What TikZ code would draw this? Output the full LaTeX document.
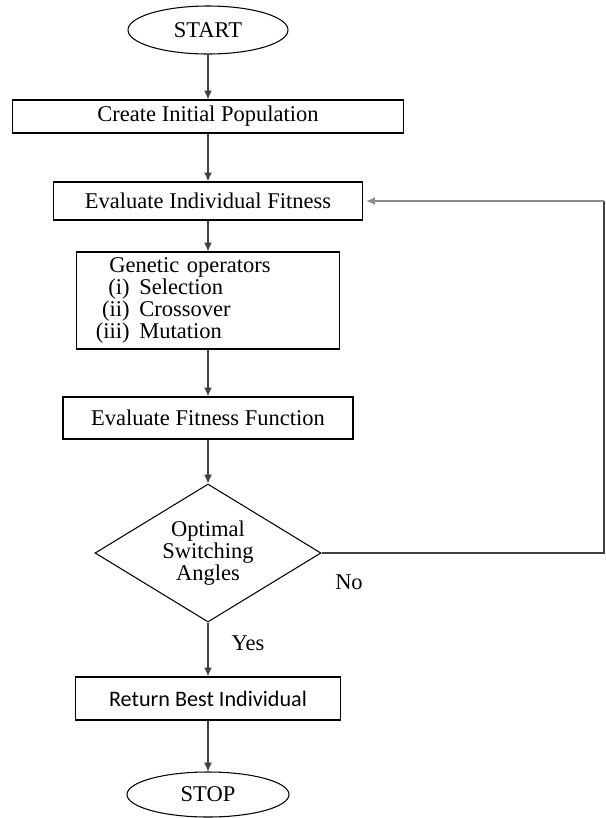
\documentclass[tikz,border=0pt]{standalone}
\usepackage{fontspec}
\setmainfont{Liberation Serif}
\newfontfamily\carlito{Carlito}
\usetikzlibrary{shapes.geometric, arrows.meta}

\begin{document}
\begin{tikzpicture}[
        stepbox/.style={rectangle, draw, line width=0.8pt, inner sep=0pt, align=center},
        terminal/.style={ellipse, draw, line width=0.6pt, inner sep=0pt},
        decision/.style={diamond, draw, line width=0.6pt, inner sep=0pt, aspect=1.64, align=center, font={\fontsize{12.8}{12.5}\selectfont}},
        line/.style={line width=0.7pt, draw=black!75},
        arrow/.style={->, line width=0.7pt, draw=black!75, >={Latex[length=5pt,width=4.5pt]}},
        font={\fontsize{12.8}{13}\selectfont}
    ]
        \useasboundingbox (0,0) rectangle (12.12,-16.36);

        % Flow stages
        \node[terminal, minimum width=3.2cm, minimum height=0.96cm] (start) at (4.16,-0.60) {START};
        \node[stepbox, minimum width=7.82cm, minimum height=0.66cm] (create) at (4.16,-2.33) {Create Initial Population};
        \node[stepbox, minimum width=6.18cm, minimum height=0.76cm] (evalind) at (4.16,-4.02) {Evaluate Individual Fitness};
        \node[stepbox, minimum width=5.26cm, minimum height=1.94cm, text width=4.5cm, align=left, font={\fontsize{12.8}{11.6}\selectfont}] (genetic) at (4.16,-6.01)
            {\hspace*{0.28cm}Genetic operators\\
             \makebox[0.68cm][r]{(i)}\hspace{0.2cm}Selection\\
             \makebox[0.68cm][r]{(ii)}\hspace{0.2cm}Crossover\\
             \makebox[0.68cm][r]{(iii)}\hspace{0.2cm}Mutation};
        \node[stepbox, minimum width=5.8cm, minimum height=0.84cm] (evalff) at (4.16,-8.36) {Evaluate Fitness Function};
        \node[decision, minimum width=4.52cm, minimum height=2.76cm] (decide) at (4.16,-11.06) {Optimal\\Switching\\Angles};
        \node[stepbox, minimum width=5.3cm, minimum height=0.86cm, font={\carlito\fontsize{12.6}{14}\selectfont}] (best) at (4.16,-13.97) {Return Best Individual};
        \node[terminal, minimum width=3.24cm, minimum height=0.9cm] (stop) at (4.16,-15.89) {STOP};

        % Connect stages
        \draw[arrow] (start) -- (create);
        \draw[arrow] (create) -- (evalind);
        \draw[arrow] (evalind) -- (genetic);
        \draw[arrow] (genetic) -- (evalff);
        \draw[arrow] (evalff) -- (decide);
        \draw[arrow] (decide) -- (best);
        \draw[arrow] (best) -- (stop);

        % Loop back when not optimal
        \coordinate (loop) at (12.08,-4.02);
        \draw[line] (decide.east) -| (loop);
        \draw[arrow, draw=black!45, shorten >=0.06cm] (loop) -- (evalind.east);

        % Branch labels
        \node (nolabel) at (6.98,-11.64) {No};
        \node (yeslabel) at (4.96,-12.86) {Yes};
    \end{tikzpicture}
\end{document}
